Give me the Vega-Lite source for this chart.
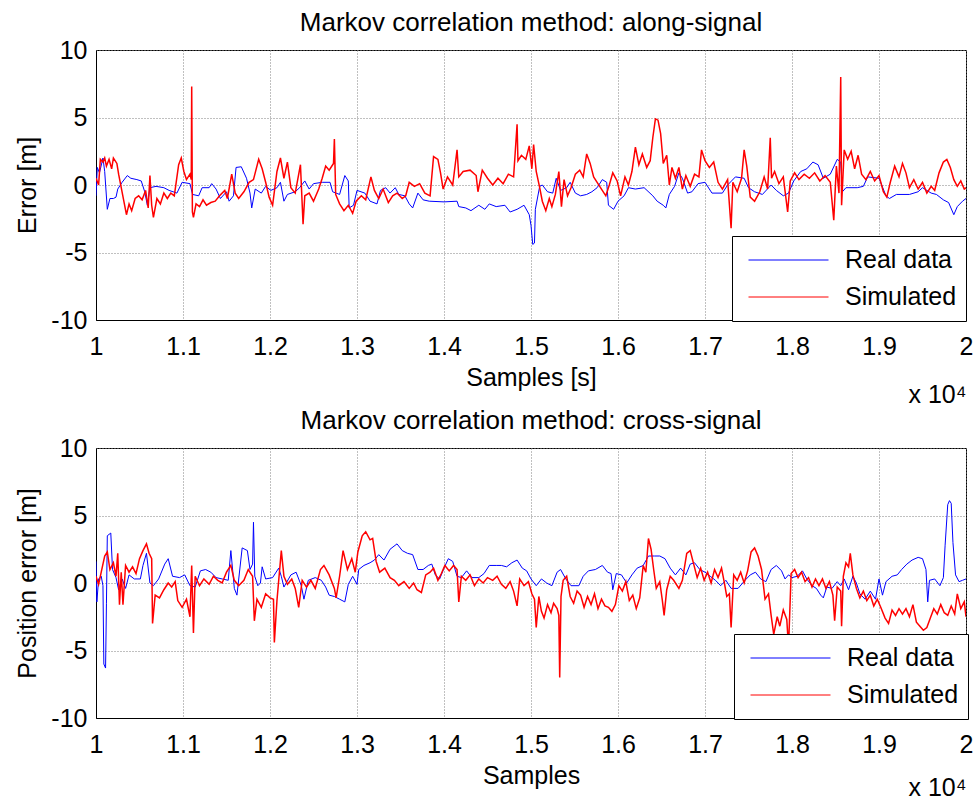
{
  "$schema": "https://vega.github.io/schema/vega-lite/v6.json",
  "padding": {"left": 15, "top": 9, "right": 8, "bottom": 0},
  "background": "white",
  "bounds": "flush",
  "spacing": 128,
  "datasets": {
    "top_real": [{"s":10000,"e":-0.8},{"s":10015,"e":1.3},{"s":10040,"e":0.9},{"s":10080,"e":2.0},{"s":10100,"e":1.0},{"s":10130,"e":-1.8},{"s":10160,"e":-1.0},{"s":10200,"e":-1.0},{"s":10230,"e":-0.9},{"s":10250,"e":-0.3},{"s":10300,"e":0.2},{"s":10360,"e":0.7},{"s":10400,"e":0.5},{"s":10470,"e":0.4},{"s":10520,"e":0.3},{"s":10560,"e":-0.5},{"s":10590,"e":-1.5},{"s":10620,"e":-0.2},{"s":10690,"e":-0.1},{"s":10780,"e":-0.2},{"s":10840,"e":-0.4},{"s":10930,"e":-0.6},{"s":10990,"e":0.2},{"s":11080,"e":0.1},{"s":11110,"e":-0.7},{"s":11180,"e":-0.8},{"s":11220,"e":-0.2},{"s":11300,"e":-0.2},{"s":11330,"e":0.1},{"s":11380,"e":-0.3},{"s":11430,"e":-1.0},{"s":11500,"e":-0.5},{"s":11530,"e":-1.2},{"s":11580,"e":-0.8},{"s":11610,"e":1.3},{"s":11670,"e":1.35},{"s":11730,"e":0.5},{"s":11770,"e":-0.6},{"s":11790,"e":-1.7},{"s":11830,"e":-0.3},{"s":11900,"e":-0.6},{"s":11950,"e":-0.1},{"s":12010,"e":-0.4},{"s":12080,"e":-0.2},{"s":12120,"e":0.2},{"s":12160,"e":-1.2},{"s":12200,"e":-0.7},{"s":12290,"e":-0.5},{"s":12340,"e":-0.2},{"s":12400,"e":0.3},{"s":12450,"e":-0.3},{"s":12500,"e":0.1},{"s":12600,"e":0.2},{"s":12690,"e":0.2},{"s":12720,"e":-0.5},{"s":12800,"e":-0.7},{"s":12860,"e":0.7},{"s":12900,"e":0.3},{"s":12910,"e":-1.7},{"s":12960,"e":-1.5},{"s":13000,"e":-0.4},{"s":13090,"e":-0.6},{"s":13150,"e":-1.2},{"s":13230,"e":-1.4},{"s":13270,"e":-0.4},{"s":13330,"e":-0.2},{"s":13380,"e":-0.6},{"s":13440,"e":-0.2},{"s":13480,"e":-0.7},{"s":13550,"e":-0.8},{"s":13600,"e":-1.4},{"s":13640,"e":-1.7},{"s":13700,"e":-0.6},{"s":13760,"e":-1.1},{"s":13830,"e":-1.2},{"s":14000,"e":-1.25},{"s":14150,"e":-1.2},{"s":14170,"e":-1.6},{"s":14250,"e":-1.7},{"s":14310,"e":-1.9},{"s":14400,"e":-1.5},{"s":14470,"e":-1.8},{"s":14520,"e":-1.4},{"s":14600,"e":-1.6},{"s":14700,"e":-1.5},{"s":14760,"e":-2.0},{"s":14840,"e":-1.8},{"s":14920,"e":-1.5},{"s":14980,"e":-2.2},{"s":15000,"e":-3.0},{"s":15020,"e":-4.4},{"s":15040,"e":-4.3},{"s":15050,"e":-1.8},{"s":15100,"e":-0.1},{"s":15130,"e":0.0},{"s":15190,"e":-0.5},{"s":15250,"e":-0.6},{"s":15290,"e":0.5},{"s":15340,"e":-0.4},{"s":15410,"e":-0.2},{"s":15450,"e":0.2},{"s":15510,"e":-0.6},{"s":15570,"e":-0.8},{"s":15640,"e":-0.7},{"s":15700,"e":-0.5},{"s":15760,"e":-0.2},{"s":15820,"e":0.4},{"s":15870,"e":0.2},{"s":15890,"e":-1.5},{"s":15950,"e":-1.8},{"s":16000,"e":-1.2},{"s":16070,"e":-0.8},{"s":16120,"e":-0.2},{"s":16200,"e":-0.3},{"s":16300,"e":-0.2},{"s":16400,"e":-0.8},{"s":16450,"e":-1.2},{"s":16520,"e":-1.5},{"s":16550,"e":-1.7},{"s":16590,"e":-0.7},{"s":16650,"e":-0.1},{"s":16700,"e":0.9},{"s":16740,"e":0.5},{"s":16800,"e":-0.6},{"s":16850,"e":-0.5},{"s":16920,"e":0.1},{"s":17000,"e":0.2},{"s":17080,"e":-0.6},{"s":17200,"e":-0.6},{"s":17260,"e":0.0},{"s":17350,"e":0.6},{"s":17450,"e":0.5},{"s":17500,"e":-0.2},{"s":17570,"e":-0.5},{"s":17660,"e":-0.7},{"s":17760,"e":0.0},{"s":17820,"e":-0.4},{"s":17900,"e":-0.8},{"s":17960,"e":-0.6},{"s":18020,"e":0.3},{"s":18100,"e":1.0},{"s":18170,"e":1.2},{"s":18240,"e":1.7},{"s":18300,"e":1.5},{"s":18360,"e":0.5},{"s":18440,"e":0.8},{"s":18520,"e":1.9},{"s":18560,"e":1.7},{"s":18580,"e":-0.5},{"s":18620,"e":-0.2},{"s":18750,"e":-0.2},{"s":18820,"e":-0.1},{"s":18870,"e":0.6},{"s":19000,"e":0.5},{"s":19080,"e":-0.8},{"s":19120,"e":-1.0},{"s":19200,"e":-0.7},{"s":19350,"e":-0.7},{"s":19450,"e":-0.5},{"s":19500,"e":-0.2},{"s":19600,"e":-0.6},{"s":19660,"e":-0.7},{"s":19740,"e":-1.1},{"s":19800,"e":-1.3},{"s":19860,"e":-2.2},{"s":19900,"e":-1.6},{"s":19960,"e":-1.2},{"s":20000,"e":-1.0}],
    "top_sim": [{"s":10000,"e":0.5},{"s":10030,"e":0.0},{"s":10050,"e":1.9},{"s":10080,"e":1.7},{"s":10100,"e":2.0},{"s":10120,"e":1.4},{"s":10150,"e":1.9},{"s":10180,"e":1.2},{"s":10200,"e":2.0},{"s":10240,"e":1.6},{"s":10260,"e":0.8},{"s":10290,"e":-0.2},{"s":10320,"e":-1.2},{"s":10350,"e":-2.2},{"s":10380,"e":-1.4},{"s":10410,"e":-1.9},{"s":10450,"e":-1.0},{"s":10490,"e":-0.8},{"s":10530,"e":-1.1},{"s":10570,"e":-0.4},{"s":10600,"e":-1.7},{"s":10620,"e":0.7},{"s":10640,"e":-1.5},{"s":10660,"e":-2.4},{"s":10700,"e":-1.0},{"s":10740,"e":-1.4},{"s":10780,"e":-0.6},{"s":10820,"e":-1.0},{"s":10860,"e":-0.6},{"s":10900,"e":-0.8},{"s":10950,"e":1.5},{"s":10980,"e":2.0},{"s":11010,"e":1.0},{"s":11040,"e":0.4},{"s":11080,"e":0.8},{"s":11095,"e":0.4},{"s":11100,"e":7.3},{"s":11108,"e":-2.0},{"s":11120,"e":-2.4},{"s":11150,"e":-1.4},{"s":11190,"e":-1.6},{"s":11230,"e":-1.1},{"s":11270,"e":-1.5},{"s":11320,"e":-1.3},{"s":11370,"e":-1.2},{"s":11420,"e":-0.8},{"s":11480,"e":-0.4},{"s":11510,"e":-1.0},{"s":11560,"e":0.8},{"s":11600,"e":-0.6},{"s":11640,"e":-1.0},{"s":11700,"e":-0.5},{"s":11760,"e":0.2},{"s":11810,"e":0.4},{"s":11870,"e":1.9},{"s":11910,"e":1.2},{"s":11950,"e":0.2},{"s":11990,"e":-0.9},{"s":12030,"e":-1.5},{"s":12080,"e":1.0},{"s":12120,"e":2.0},{"s":12160,"e":0.5},{"s":12200,"e":1.7},{"s":12240,"e":-0.2},{"s":12290,"e":-0.6},{"s":12350,"e":1.5},{"s":12380,"e":-2.9},{"s":12400,"e":-0.8},{"s":12450,"e":-0.6},{"s":12500,"e":-1.2},{"s":12560,"e":-0.3},{"s":12600,"e":0.5},{"s":12640,"e":1.4},{"s":12680,"e":1.1},{"s":12730,"e":1.6},{"s":12740,"e":3.4},{"s":12755,"e":-0.7},{"s":12800,"e":-1.4},{"s":12850,"e":-1.9},{"s":12900,"e":-1.5},{"s":12950,"e":-2.1},{"s":12990,"e":-1.2},{"s":13050,"e":-0.8},{"s":13100,"e":-1.1},{"s":13160,"e":0.6},{"s":13200,"e":-0.4},{"s":13250,"e":-1.0},{"s":13300,"e":-0.3},{"s":13360,"e":-1.3},{"s":13410,"e":-0.8},{"s":13460,"e":-0.6},{"s":13520,"e":-1.0},{"s":13560,"e":-0.8},{"s":13600,"e":0.2},{"s":13660,"e":-0.1},{"s":13720,"e":0.1},{"s":13780,"e":-0.6},{"s":13840,"e":-0.8},{"s":13880,"e":2.1},{"s":13930,"e":1.9},{"s":13960,"e":0.9},{"s":13990,"e":-0.3},{"s":14040,"e":0.6},{"s":14100,"e":0.0},{"s":14150,"e":2.6},{"s":14170,"e":0.6},{"s":14220,"e":1.0},{"s":14300,"e":1.1},{"s":14370,"e":0.7},{"s":14390,"e":-0.5},{"s":14440,"e":1.1},{"s":14500,"e":0.5},{"s":14560,"e":0.0},{"s":14620,"e":0.5},{"s":14680,"e":0.1},{"s":14740,"e":0.8},{"s":14800,"e":0.6},{"s":14840,"e":4.5},{"s":14850,"e":1.8},{"s":14890,"e":2.2},{"s":14940,"e":1.9},{"s":14980,"e":2.9},{"s":15010,"e":1.2},{"s":15030,"e":3.0},{"s":15060,"e":1.0},{"s":15100,"e":-0.2},{"s":15130,"e":-1.2},{"s":15170,"e":-1.9},{"s":15210,"e":-1.0},{"s":15240,"e":-1.6},{"s":15280,"e":-0.7},{"s":15320,"e":1.0},{"s":15350,"e":-1.6},{"s":15380,"e":0.4},{"s":15420,"e":-0.8},{"s":15460,"e":-0.2},{"s":15510,"e":0.8},{"s":15560,"e":1.1},{"s":15600,"e":0.6},{"s":15640,"e":2.3},{"s":15680,"e":1.6},{"s":15720,"e":0.6},{"s":15760,"e":0.2},{"s":15810,"e":-0.3},{"s":15860,"e":-0.8},{"s":15900,"e":0.0},{"s":15940,"e":0.9},{"s":15990,"e":0.3},{"s":16030,"e":-0.8},{"s":16080,"e":0.6},{"s":16120,"e":0.0},{"s":16160,"e":1.0},{"s":16200,"e":2.8},{"s":16240,"e":1.5},{"s":16280,"e":2.3},{"s":16330,"e":1.3},{"s":16370,"e":1.8},{"s":16400,"e":3.5},{"s":16430,"e":4.9},{"s":16460,"e":4.8},{"s":16490,"e":3.8},{"s":16520,"e":1.6},{"s":16560,"e":2.2},{"s":16590,"e":0.0},{"s":16620,"e":1.3},{"s":16660,"e":0.5},{"s":16700,"e":1.3},{"s":16740,"e":-0.3},{"s":16780,"e":0.7},{"s":16830,"e":-0.1},{"s":16880,"e":0.8},{"s":16930,"e":0.6},{"s":16960,"e":2.6},{"s":17000,"e":1.8},{"s":17050,"e":1.3},{"s":17100,"e":1.7},{"s":17150,"e":0.2},{"s":17200,"e":-0.3},{"s":17260,"e":0.4},{"s":17300,"e":-3.2},{"s":17320,"e":0.2},{"s":17370,"e":-0.5},{"s":17420,"e":0.5},{"s":17450,"e":2.6},{"s":17480,"e":1.4},{"s":17520,"e":-0.9},{"s":17570,"e":-1.2},{"s":17630,"e":-0.5},{"s":17680,"e":0.6},{"s":17720,"e":-0.3},{"s":17750,"e":3.5},{"s":17765,"e":0.5},{"s":17800,"e":1.0},{"s":17850,"e":0.1},{"s":17900,"e":0.6},{"s":17950,"e":-2.0},{"s":17980,"e":0.3},{"s":18030,"e":0.9},{"s":18080,"e":0.4},{"s":18140,"e":0.8},{"s":18200,"e":0.5},{"s":18260,"e":0.9},{"s":18320,"e":0.3},{"s":18380,"e":0.7},{"s":18440,"e":0.2},{"s":18480,"e":-2.6},{"s":18510,"e":1.4},{"s":18540,"e":-0.6},{"s":18560,"e":8.0},{"s":18570,"e":-1.5},{"s":18600,"e":2.6},{"s":18640,"e":1.9},{"s":18680,"e":2.5},{"s":18720,"e":1.2},{"s":18760,"e":2.2},{"s":18800,"e":0.8},{"s":18850,"e":0.4},{"s":18900,"e":1.0},{"s":18950,"e":0.3},{"s":19000,"e":0.7},{"s":19050,"e":-0.5},{"s":19090,"e":-0.9},{"s":19130,"e":0.2},{"s":19180,"e":1.4},{"s":19230,"e":0.6},{"s":19270,"e":1.6},{"s":19310,"e":0.9},{"s":19350,"e":-0.2},{"s":19400,"e":0.4},{"s":19450,"e":-0.3},{"s":19500,"e":0.2},{"s":19550,"e":-0.6},{"s":19600,"e":-0.1},{"s":19640,"e":-0.4},{"s":19690,"e":0.9},{"s":19740,"e":1.7},{"s":19780,"e":1.9},{"s":19820,"e":1.3},{"s":19860,"e":0.4},{"s":19900,"e":-0.1},{"s":19940,"e":0.3},{"s":19980,"e":-0.3},{"s":20000,"e":-0.2}],
    "bot_real": [{"s":10000,"e":1.6},{"s":10010,"e":-1.4},{"s":10030,"e":0.3},{"s":10060,"e":0.5},{"s":10080,"e":-0.2},{"s":10090,"e":-6.0},{"s":10110,"e":-6.3},{"s":10120,"e":-1.5},{"s":10130,"e":3.5},{"s":10170,"e":3.7},{"s":10190,"e":1.0},{"s":10230,"e":0.4},{"s":10260,"e":-0.5},{"s":10300,"e":0.3},{"s":10340,"e":-0.4},{"s":10380,"e":0.6},{"s":10440,"e":0.3},{"s":10510,"e":0.3},{"s":10540,"e":1.3},{"s":10580,"e":2.2},{"s":10620,"e":0.0},{"s":10660,"e":-0.2},{"s":10720,"e":0.3},{"s":10790,"e":1.4},{"s":10830,"e":1.8},{"s":10880,"e":0.5},{"s":10960,"e":0.4},{"s":11020,"e":0.6},{"s":11080,"e":-0.2},{"s":11140,"e":-0.3},{"s":11200,"e":0.9},{"s":11260,"e":1.0},{"s":11320,"e":0.8},{"s":11380,"e":0.4},{"s":11450,"e":0.3},{"s":11520,"e":0.2},{"s":11550,"e":2.4},{"s":11590,"e":-0.4},{"s":11620,"e":-0.9},{"s":11680,"e":2.6},{"s":11740,"e":2.4},{"s":11770,"e":1.0},{"s":11800,"e":1.4},{"s":11810,"e":4.5},{"s":11825,"e":0.5},{"s":11860,"e":-0.2},{"s":11890,"e":0.0},{"s":11910,"e":1.2},{"s":11950,"e":0.3},{"s":12030,"e":0.4},{"s":12100,"e":1.1},{"s":12130,"e":0.5},{"s":12160,"e":-0.3},{"s":12240,"e":0.6},{"s":12300,"e":0.8},{"s":12360,"e":-0.2},{"s":12390,"e":-1.2},{"s":12440,"e":0.2},{"s":12520,"e":0.4},{"s":12590,"e":0.2},{"s":12640,"e":-0.3},{"s":12680,"e":-0.9},{"s":12740,"e":-1.0},{"s":12800,"e":-1.2},{"s":12860,"e":-1.4},{"s":12900,"e":-0.1},{"s":12950,"e":0.5},{"s":13000,"e":-0.1},{"s":13020,"e":1.0},{"s":13080,"e":1.3},{"s":13150,"e":1.5},{"s":13200,"e":1.7},{"s":13250,"e":2.1},{"s":13310,"e":1.7},{"s":13380,"e":2.5},{"s":13460,"e":2.9},{"s":13520,"e":2.4},{"s":13580,"e":2.2},{"s":13640,"e":2.1},{"s":13700,"e":1.0},{"s":13760,"e":1.0},{"s":13820,"e":1.3},{"s":13860,"e":1.4},{"s":13900,"e":0.6},{"s":13950,"e":0.3},{"s":14000,"e":1.1},{"s":14050,"e":1.8},{"s":14100,"e":1.6},{"s":14150,"e":0.5},{"s":14200,"e":0.4},{"s":14260,"e":0.9},{"s":14320,"e":0.4},{"s":14400,"e":0.4},{"s":14460,"e":0.7},{"s":14520,"e":1.3},{"s":14600,"e":1.3},{"s":14660,"e":1.3},{"s":14720,"e":1.2},{"s":14780,"e":1.5},{"s":14840,"e":1.7},{"s":14900,"e":1.1},{"s":14950,"e":0.9},{"s":15000,"e":0.3},{"s":15060,"e":-0.2},{"s":15120,"e":0.3},{"s":15180,"e":0.0},{"s":15240,"e":-0.2},{"s":15300,"e":0.8},{"s":15340,"e":1.0},{"s":15400,"e":0.3},{"s":15460,"e":-0.2},{"s":15550,"e":-0.2},{"s":15600,"e":0.5},{"s":15660,"e":0.9},{"s":15740,"e":1.0},{"s":15820,"e":1.3},{"s":15880,"e":0.8},{"s":15920,"e":0.7},{"s":15940,"e":-0.5},{"s":15980,"e":0.7},{"s":16040,"e":0.6},{"s":16100,"e":0.0},{"s":16160,"e":0.6},{"s":16220,"e":1.1},{"s":16290,"e":1.3},{"s":16350,"e":2.0},{"s":16420,"e":2.0},{"s":16480,"e":2.0},{"s":16540,"e":1.8},{"s":16600,"e":1.1},{"s":16660,"e":0.6},{"s":16720,"e":1.1},{"s":16780,"e":0.6},{"s":16830,"e":1.4},{"s":16880,"e":1.5},{"s":16940,"e":1.0},{"s":17000,"e":0.8},{"s":17060,"e":0.5},{"s":17120,"e":0.2},{"s":17180,"e":-0.2},{"s":17240,"e":0.2},{"s":17300,"e":-0.4},{"s":17380,"e":-0.4},{"s":17460,"e":0.2},{"s":17520,"e":0.6},{"s":17580,"e":0.8},{"s":17640,"e":0.3},{"s":17700,"e":0.1},{"s":17760,"e":1.0},{"s":17820,"e":1.3},{"s":17880,"e":0.9},{"s":17920,"e":0.3},{"s":17960,"e":0.6},{"s":18000,"e":0.4},{"s":18060,"e":0.5},{"s":18120,"e":0.9},{"s":18170,"e":0.3},{"s":18230,"e":-0.2},{"s":18280,"e":-0.4},{"s":18330,"e":-0.9},{"s":18360,"e":-1.1},{"s":18400,"e":-0.3},{"s":18460,"e":-0.4},{"s":18520,"e":0.1},{"s":18560,"e":-0.2},{"s":18600,"e":0.3},{"s":18650,"e":-0.5},{"s":18700,"e":0.5},{"s":18740,"e":0.0},{"s":18780,"e":-0.8},{"s":18840,"e":-1.2},{"s":18900,"e":-0.6},{"s":18960,"e":-1.2},{"s":19000,"e":0.3},{"s":19040,"e":-0.9},{"s":19080,"e":0.1},{"s":19150,"e":0.5},{"s":19210,"e":0.6},{"s":19260,"e":1.0},{"s":19320,"e":1.4},{"s":19380,"e":1.7},{"s":19450,"e":1.9},{"s":19500,"e":1.8},{"s":19540,"e":1.0},{"s":19560,"e":-1.4},{"s":19580,"e":0.2},{"s":19640,"e":0.3},{"s":19700,"e":-0.2},{"s":19740,"e":0.4},{"s":19760,"e":2.8},{"s":19790,"e":5.8},{"s":19810,"e":6.1},{"s":19830,"e":5.9},{"s":19850,"e":3.0},{"s":19880,"e":0.6},{"s":19920,"e":0.1},{"s":19960,"e":0.2},{"s":20000,"e":0.3}],
    "bot_sim": [{"s":10000,"e":0.5},{"s":10030,"e":-0.1},{"s":10060,"e":0.8},{"s":10100,"e":2.0},{"s":10130,"e":2.3},{"s":10160,"e":1.0},{"s":10200,"e":1.5},{"s":10230,"e":0.5},{"s":10250,"e":2.2},{"s":10270,"e":-1.6},{"s":10290,"e":0.8},{"s":10310,"e":-1.6},{"s":10340,"e":1.3},{"s":10380,"e":0.8},{"s":10420,"e":1.2},{"s":10460,"e":0.7},{"s":10500,"e":1.8},{"s":10540,"e":2.4},{"s":10580,"e":2.9},{"s":10610,"e":2.2},{"s":10640,"e":1.8},{"s":10650,"e":-3.0},{"s":10680,"e":-0.9},{"s":10730,"e":-1.1},{"s":10780,"e":-0.5},{"s":10830,"e":0.0},{"s":10870,"e":-0.3},{"s":10910,"e":0.1},{"s":10940,"e":-1.3},{"s":10990,"e":-1.8},{"s":11040,"e":-1.2},{"s":11080,"e":-2.5},{"s":11100,"e":1.3},{"s":11120,"e":-3.7},{"s":11140,"e":0.5},{"s":11190,"e":-0.2},{"s":11240,"e":0.3},{"s":11300,"e":-0.1},{"s":11350,"e":0.5},{"s":11400,"e":0.2},{"s":11450,"e":0.0},{"s":11500,"e":0.8},{"s":11550,"e":1.3},{"s":11590,"e":0.2},{"s":11640,"e":-0.2},{"s":11700,"e":0.2},{"s":11750,"e":1.0},{"s":11800,"e":0.5},{"s":11820,"e":-2.8},{"s":11850,"e":-1.2},{"s":11900,"e":-1.8},{"s":11950,"e":-0.8},{"s":12000,"e":-1.1},{"s":12040,"e":-1.2},{"s":12050,"e":-4.4},{"s":12080,"e":-1.3},{"s":12130,"e":2.4},{"s":12160,"e":0.5},{"s":12200,"e":-0.1},{"s":12250,"e":0.3},{"s":12290,"e":-0.4},{"s":12330,"e":-1.8},{"s":12370,"e":0.2},{"s":12420,"e":-0.3},{"s":12470,"e":0.2},{"s":12520,"e":-0.4},{"s":12580,"e":1.0},{"s":12620,"e":1.3},{"s":12680,"e":0.6},{"s":12740,"e":-0.4},{"s":12760,"e":-1.1},{"s":12800,"e":0.5},{"s":12840,"e":2.4},{"s":12890,"e":1.0},{"s":12940,"e":1.8},{"s":12980,"e":0.8},{"s":13010,"e":2.3},{"s":13060,"e":3.5},{"s":13100,"e":3.8},{"s":13150,"e":3.2},{"s":13180,"e":3.3},{"s":13220,"e":1.6},{"s":13260,"e":0.8},{"s":13320,"e":1.1},{"s":13380,"e":0.4},{"s":13430,"e":0.2},{"s":13480,"e":-0.2},{"s":13540,"e":0.1},{"s":13600,"e":-0.4},{"s":13650,"e":0.0},{"s":13690,"e":-0.5},{"s":13740,"e":-0.7},{"s":13790,"e":0.6},{"s":13840,"e":0.8},{"s":13880,"e":1.1},{"s":13930,"e":0.2},{"s":13970,"e":0.7},{"s":14010,"e":1.3},{"s":14060,"e":0.9},{"s":14110,"e":1.3},{"s":14150,"e":1.0},{"s":14170,"e":-1.4},{"s":14200,"e":0.5},{"s":14250,"e":0.2},{"s":14300,"e":0.6},{"s":14350,"e":-0.2},{"s":14400,"e":0.3},{"s":14450,"e":0.0},{"s":14500,"e":0.4},{"s":14560,"e":0.2},{"s":14610,"e":0.5},{"s":14660,"e":-0.1},{"s":14710,"e":-0.4},{"s":14760,"e":0.1},{"s":14800,"e":-0.6},{"s":14840,"e":-1.7},{"s":14870,"e":0.3},{"s":14920,"e":-0.2},{"s":14970,"e":0.1},{"s":15010,"e":-0.8},{"s":15040,"e":-1.2},{"s":15060,"e":-3.3},{"s":15090,"e":-1.0},{"s":15120,"e":-2.1},{"s":15150,"e":-2.6},{"s":15190,"e":-1.6},{"s":15230,"e":-2.2},{"s":15260,"e":-1.5},{"s":15300,"e":-1.9},{"s":15320,"e":-2.4},{"s":15330,"e":-7.0},{"s":15345,"e":-1.0},{"s":15370,"e":0.2},{"s":15410,"e":0.5},{"s":15450,"e":-1.0},{"s":15490,"e":-1.5},{"s":15530,"e":-0.6},{"s":15570,"e":-0.9},{"s":15610,"e":-1.8},{"s":15650,"e":-1.0},{"s":15690,"e":-1.6},{"s":15730,"e":-0.8},{"s":15770,"e":-1.9},{"s":15810,"e":-1.2},{"s":15850,"e":-1.7},{"s":15890,"e":-1.8},{"s":15930,"e":-2.1},{"s":15970,"e":-1.6},{"s":16010,"e":-0.2},{"s":16050,"e":-0.6},{"s":16090,"e":0.1},{"s":16130,"e":-1.3},{"s":16170,"e":-0.9},{"s":16210,"e":-1.9},{"s":16250,"e":-1.1},{"s":16290,"e":1.3},{"s":16320,"e":0.8},{"s":16350,"e":3.3},{"s":16380,"e":2.5},{"s":16410,"e":1.0},{"s":16440,"e":-0.4},{"s":16480,"e":0.1},{"s":16510,"e":-1.3},{"s":16530,"e":-2.4},{"s":16560,"e":-0.5},{"s":16600,"e":0.5},{"s":16640,"e":0.2},{"s":16700,"e":-0.4},{"s":16740,"e":0.2},{"s":16790,"e":2.2},{"s":16830,"e":2.4},{"s":16870,"e":1.4},{"s":16910,"e":0.4},{"s":16950,"e":1.1},{"s":16990,"e":0.2},{"s":17030,"e":0.8},{"s":17070,"e":0.0},{"s":17110,"e":1.0},{"s":17150,"e":0.4},{"s":17190,"e":1.1},{"s":17220,"e":0.1},{"s":17250,"e":-1.0},{"s":17280,"e":-0.8},{"s":17300,"e":-3.3},{"s":17330,"e":0.6},{"s":17370,"e":0.2},{"s":17410,"e":0.8},{"s":17450,"e":0.0},{"s":17490,"e":0.9},{"s":17530,"e":2.3},{"s":17570,"e":2.6},{"s":17610,"e":2.0},{"s":17650,"e":1.0},{"s":17690,"e":-1.2},{"s":17730,"e":-0.8},{"s":17760,"e":-2.4},{"s":17790,"e":-3.8},{"s":17830,"e":-2.5},{"s":17860,"e":-3.2},{"s":17900,"e":-2.0},{"s":17940,"e":-2.7},{"s":17960,"e":-4.8},{"s":17990,"e":0.7},{"s":18030,"e":1.0},{"s":18070,"e":0.4},{"s":18110,"e":0.8},{"s":18150,"e":0.1},{"s":18190,"e":0.4},{"s":18230,"e":-0.3},{"s":18270,"e":0.3},{"s":18310,"e":-0.2},{"s":18350,"e":0.3},{"s":18390,"e":-0.4},{"s":18430,"e":0.1},{"s":18470,"e":-0.9},{"s":18490,"e":-2.8},{"s":18520,"e":-0.3},{"s":18560,"e":-0.6},{"s":18570,"e":-3.2},{"s":18590,"e":0.5},{"s":18620,"e":1.5},{"s":18650,"e":1.2},{"s":18670,"e":2.2},{"s":18700,"e":0.6},{"s":18740,"e":-0.4},{"s":18780,"e":-1.1},{"s":18820,"e":-0.6},{"s":18860,"e":-1.3},{"s":18900,"e":-0.9},{"s":18940,"e":-1.7},{"s":18980,"e":-1.2},{"s":19020,"e":-1.8},{"s":19070,"e":-2.6},{"s":19110,"e":-3.0},{"s":19150,"e":-2.0},{"s":19190,"e":-2.4},{"s":19230,"e":-1.9},{"s":19270,"e":-2.3},{"s":19310,"e":-1.9},{"s":19350,"e":-2.5},{"s":19390,"e":-1.6},{"s":19430,"e":-2.9},{"s":19470,"e":-3.2},{"s":19510,"e":-3.5},{"s":19550,"e":-3.3},{"s":19590,"e":-2.6},{"s":19630,"e":-1.9},{"s":19670,"e":-2.3},{"s":19710,"e":-1.6},{"s":19750,"e":-2.2},{"s":19790,"e":-2.4},{"s":19830,"e":-1.7},{"s":19870,"e":-2.3},{"s":19900,"e":-0.8},{"s":19940,"e":-1.9},{"s":19980,"e":-1.4},{"s":20000,"e":-2.5}]
  },
  "vconcat": [
    {
      "title": {"text": "Markov correlation method: along-signal"},
      "width": 870,
      "height": 270,
      "layer": [
        {
          "data": {"name": "top_real"},
          "mark": {"type": "line", "strokeWidth": 1, "clip": true},
          "encoding": {
            "x": {"field": "s", "type": "quantitative", "scale": {"domain": [10000, 20000], "nice": false, "zero": false},
                  "axis": {"orient": "bottom", "title": "Samples [s]", "values": [10000, 11000, 12000, 13000, 14000, 15000, 16000, 17000, 18000, 19000, 20000], "labelExpr": "format(datum.value / 10000, '.1~f')"}},
            "y": {"field": "e", "type": "quantitative", "scale": {"domain": [-10, 10], "nice": false},
                  "axis": {"title": "Error [m]", "values": [-10, -5, 0, 5, 10], "labelExpr": "'' + datum.value"}},
            "color": {"datum": "Real data", "type": "nominal",
                      "scale": {"domain": ["Real data", "Simulated"], "range": ["#0000ff", "#ff0000"]},
                      "legend": {"title": null, "orient": "none", "legendX": 636, "legendY": 186}}
          }
        },
        {
          "data": {"name": "top_sim"},
          "mark": {"type": "line", "strokeWidth": 1.5, "clip": true},
          "encoding": {
            "x": {"field": "s", "type": "quantitative",
                  "axis": {"orient": "bottom", "title": "x 10⁴", "labels": false, "ticks": false, "domain": false, "grid": false, "titleAnchor": "end", "titlePadding": 62}},
            "y": {"field": "e", "type": "quantitative"},
            "color": {"datum": "Simulated", "type": "nominal"}
          }
        }
      ],
      "resolve": {"axis": {"x": "independent"}}
    },
    {
      "title": {"text": "Markov correlation method: cross-signal"},
      "width": 870,
      "height": 270,
      "layer": [
        {
          "data": {"name": "bot_real"},
          "mark": {"type": "line", "strokeWidth": 1, "clip": true},
          "encoding": {
            "x": {"field": "s", "type": "quantitative", "scale": {"domain": [10000, 20000], "nice": false, "zero": false},
                  "axis": {"orient": "bottom", "title": "Samples", "values": [10000, 11000, 12000, 13000, 14000, 15000, 16000, 17000, 18000, 19000, 20000], "labelExpr": "format(datum.value / 10000, '.1~f')"}},
            "y": {"field": "e", "type": "quantitative", "scale": {"domain": [-10, 10], "nice": false},
                  "axis": {"title": "Position error [m]", "values": [-10, -5, 0, 5, 10], "labelExpr": "'' + datum.value"}},
            "color": {"datum": "Real data", "type": "nominal",
                      "scale": {"domain": ["Real data", "Simulated"], "range": ["#0000ff", "#ff0000"]},
                      "legend": {"title": null, "orient": "none", "legendX": 638, "legendY": 186}}
          }
        },
        {
          "data": {"name": "bot_sim"},
          "mark": {"type": "line", "strokeWidth": 1.5, "clip": true},
          "encoding": {
            "x": {"field": "s", "type": "quantitative",
                  "axis": {"orient": "bottom", "title": "x 10⁴", "labels": false, "ticks": false, "domain": false, "grid": false, "titleAnchor": "end", "titlePadding": 57}},
            "y": {"field": "e", "type": "quantitative"},
            "color": {"datum": "Simulated", "type": "nominal"}
          }
        }
      ],
      "resolve": {"axis": {"x": "independent"}}
    }
  ],
  "resolve": {"scale": {"color": "independent"}, "legend": {"color": "independent"}},
  "config": {
    "font": "Liberation Sans",
    "view": {"stroke": "black", "strokeWidth": 1},
    "axis": {"labelFontSize": 25, "labelColor": "black", "labelFont": "Liberation Sans", "titleFont": "Liberation Sans", "titleFontSize": 25, "titleFontWeight": "normal", "titleColor": "black", "domainColor": "black", "domainWidth": 1, "ticks": false, "labelFlush": false, "labelOverlap": false, "gridColor": "#808080", "gridDash": [1, 2], "gridOpacity": 1, "gridWidth": 1},
    "axisX": {"labelPadding": 14, "titlePadding": 6},
    "axisY": {"labelPadding": 9, "titlePadding": 10},
    "title": {"font": "Liberation Sans", "fontSize": 26, "fontWeight": "normal", "color": "black", "offset": 2, "baseline": "alphabetic"},
    "legend": {"labelFont": "Liberation Sans", "labelFontSize": 25, "labelColor": "black", "strokeColor": "black", "fillColor": "white", "padding": 9, "cornerRadius": 0, "symbolType": "stroke", "symbolSize": 6400, "symbolStrokeWidth": 1, "symbolOpacity": 1, "labelOffset": 16, "symbolOffset": 7, "rowPadding": 7, "clipHeight": 30}
  }
}
